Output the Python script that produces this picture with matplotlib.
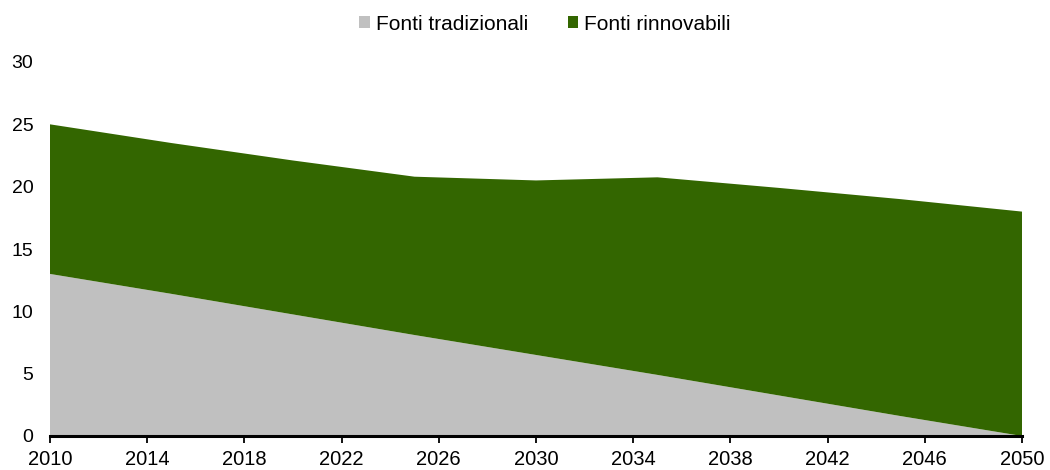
import matplotlib
matplotlib.use("Agg")
import matplotlib.pyplot as plt
from matplotlib.patches import Patch

years = [2010, 2015, 2020, 2025, 2030, 2035, 2040, 2045, 2050]
tradizionali = [13.0, 11.4, 9.75, 8.1, 6.5, 4.9, 3.25, 1.6, 0.0]
rinnovabili = [12.0, 12.1, 12.35, 12.7, 14.0, 15.85, 16.65, 17.4, 18.0]
x_ticks = list(range(2010, 2051, 4))
y_ticks = [0, 5, 10, 15, 20, 25, 30]
labels = ["Fonti tradizionali", "Fonti rinnovabili"]
colors = ["#c0c0c0", "#336600"]

plt.rcParams['font.family'] = ['Liberation Sans', 'DejaVu Sans']

fig = plt.figure(figsize=(10.5, 4.7), dpi=100)
ax = fig.add_axes([50/1050, 1-436/470, 972/1050, (436-62)/470])
ax.stackplot(years, tradizionali, rinnovabili, colors=colors, linewidth=0)
ax.set_xlim(2010, 2050)
ax.set_ylim(0, 30)
ax.set_xticks(x_ticks)
ax.set_yticks(y_ticks)
for s in ['top', 'right', 'left']:
    ax.spines[s].set_visible(False)
ax.spines['bottom'].set_linewidth(2.2)
ax.spines['bottom'].set_zorder(5)
ax.tick_params(axis='y', length=0, pad=12, labelsize=14)
ax.tick_params(axis='x', length=5, width=1.3, direction='out', pad=5, labelsize=14.5)

handles = [Patch(facecolor=c, edgecolor='none') for c in colors]
fig.legend(handles, labels, loc='center', bbox_to_anchor=(0.519, 1 - 24/470), ncol=2,
           frameon=False, fontsize=15, handlelength=0.5, handleheight=0.5,
           handletextpad=0.3, columnspacing=1.9, borderpad=0)

fig.savefig("out.png", dpi=100)
